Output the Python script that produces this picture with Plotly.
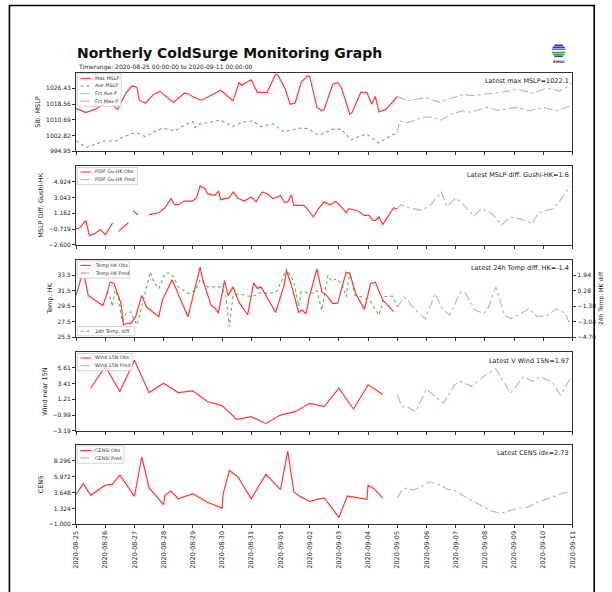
import pandas as pd
import plotly.graph_objects as go

START = pd.Timestamp("2020-08-25 00:00:00")
END = pd.Timestamp("2020-09-11 00:00:00")

# ---------------- data (hours after START, values) ----------------
max_mslp_h = [0, 8, 16, 23, 28, 34, 41, 46, 50, 52, 57, 64, 69, 75, 80, 89, 93, 97, 103, 111, 119, 129, 134, 136,
              144, 149, 157, 164, 166, 172, 176, 180, 185, 190, 192, 198, 202, 204, 211, 215, 218, 225, 227, 234,
              239, 243, 246, 249, 255, 264]
max_mslp_v = [1016.4, 1014.3, 1016.0, 1018.8, 1019.5, 1015.8, 1024.0, 1027.7, 1027.0, 1020.5, 1019.0, 1023.5,
              1024.9, 1022.0, 1019.4, 1024.0, 1023.5, 1021.9, 1020.5, 1023.0, 1025.5, 1020.2, 1029.4, 1028.0,
              1030.7, 1024.4, 1024.4, 1033.5, 1033.0, 1026.0, 1018.5, 1019.0, 1029.4, 1032.7, 1032.5, 1016.9,
              1015.2, 1016.0, 1028.5, 1029.4, 1027.0, 1013.5, 1014.5, 1024.4, 1024.4, 1018.5, 1022.4, 1014.6,
              1016.0, 1022.4]
ave_mslp_h = [0, 8, 16, 23, 33, 38, 46, 50, 57, 65, 71, 76, 81, 89, 96, 98, 100, 108, 119, 129, 137, 145, 152,
              160, 162, 171, 176, 184, 190, 200, 211, 218, 226, 233, 239, 249, 255, 264]
ave_mslp_v = [1000.1, 996.8, 998.5, 1000.1, 1000.1, 1002.0, 1003.8, 1004.0, 1002.3, 1005.0, 1006.5, 1006.0,
              1005.1, 1008.0, 1009.8, 1006.8, 1008.3, 1009.3, 1010.5, 1007.3, 1009.5, 1010.1, 1007.3, 1008.5,
              1008.5, 1004.6, 1005.5, 1006.5, 1006.3, 1003.0, 1006.0, 1006.0, 1000.6, 1002.5, 1003.5, 999.0,
              1001.5, 1004.3]
fct_ave_h = [264, 266, 273, 284, 292, 300, 308, 318, 324, 338, 346, 354, 362, 373, 384, 395, 407]
fct_ave_v = [1004.3, 1010.1, 1009.3, 1011.8, 1012.2, 1010.5, 1013.5, 1015.2, 1014.5, 1016.9, 1015.5, 1016.0,
             1016.9, 1015.2, 1016.9, 1015.2, 1017.7]
fct_max_h = [264, 273, 280, 287, 291, 299, 303, 314, 319, 324, 335, 346, 352, 362, 368, 376, 384, 389, 397,
             403, 407]
fct_max_v = [1022.4, 1020.2, 1021.0, 1021.9, 1021.0, 1019.4, 1020.5, 1022.7, 1023.5, 1022.7, 1023.5, 1024.4,
             1024.7, 1026.0, 1025.2, 1024.0, 1026.0, 1026.3, 1025.2, 1026.8, 1029.0]

pdif_obs_h = [0, 3, 8, 11, 15, 20, 24, 30, 32, 35, 43, 45, 47, 51, 55, 60, 68, 73, 78, 81, 84, 89, 96, 99, 102,
              106, 108, 114, 117, 119, 126, 129, 133, 138, 144, 148, 153, 157, 162, 168, 171, 174, 177, 179, 187,
              190, 195, 199, 204, 209, 213, 217, 222, 224, 231, 237, 241, 244, 246, 249, 252, 257, 261, 264]
pdif_obs_v = [-0.68, -0.6, 0.31, -1.49, -1.3, -0.77, -1.4, 0.0, None, -1.0, 0.04, None, 1.44, 1.0, None, 1.0,
              1.23, 1.8, 2.91, 2.19, 2.19, 2.63, 2.63, 3.0, 4.43, 4.1, 3.51, 3.3, 3.83, 2.79, 3.03, 3.71, 3.0,
              2.63, 3.11, 2.51, 3.71, 3.5, 2.91, 3.3, 2.51, 2.51, 3.39, 2.11, 2.11, 1.7, 0.72, 1.71, 2.51, 2.19,
              2.59, 2.1, 1.23, 1.71, 1.5, 0.91, 0.91, 0.31, 0.31, 0.72, -0.17, 0.91, 1.8, 1.71]
pdif_pred_h = [264, 267, 274, 284, 291, 294, 300, 305, 312, 319, 327, 333, 341, 350, 357, 365, 375, 380, 392,
               398, 406]
pdif_pred_v = [1.71, 2.19, 1.8, 1.51, 2.11, 2.6, 3.71, 1.99, 3.0, 2.11, 0.84, 1.71, 1.2, -0.2, 0.72, 0.5, -0.08,
               1.23, 1.71, 2.71, 4.43]

temp_obs_h = [0, 6, 10, 22, 25, 28, 31, 34, 37, 39, 42, 45, 49, 54, 58, 68, 71, 79, 84, 92, 102, 104, 111, 114,
              117, 122, 125, 129, 134, 141, 146, 149, 152, 157, 164, 171, 173, 177, 183, 186, 189, 192, 198, 202,
              206, 211, 215, 222, 225, 230, 237, 242, 246, 252, 261]
temp_obs_v = [30.9, 34.1, 30.9, 29.6, 30.9, 32.6, 32.5, 31.1, 29.85, 27.1, 27.3, 27.3, 28.15, 30.9, 29.4, 28.15,
              30.3, 32.9, 31.1, 28.15, 34.55, 33.0, 29.6, 29.3, 28.6, 32.8, 30.9, 32.0, 30.0, 28.4, 32.5, 31.8,
              32.0, 30.6, 28.7, 32.2, 34.1, 32.2, 28.7, 29.0, 28.5, 30.9, 34.3, 31.35, 30.9, 29.85, 29.9, 33.9,
              33.7, 31.1, 29.1, 32.4, 32.6, 30.3, 28.8]
temp_pred_h = [264, 270, 279, 287, 295, 301, 307, 316, 320, 328, 335, 338, 345, 352, 357, 364, 372, 379, 388,
               395, 402, 405, 407]
temp_pred_v = [29.4, 30.7, 29.0, 27.85, 31.1, 29.2, 28.35, 31.35, 31.2, 29.0, 28.55, 29.0, 32.0, 28.35, 27.9,
               28.4, 29.2, 28.15, 28.35, 29.2, 28.6, 27.5, 27.7]
tdiff_h = [25, 27, 30, 32, 35, 38, 41, 45, 50, 53, 61, 64, 68, 73, 76, 80, 84, 92, 98, 102, 108, 119, 123, 126,
           129, 134, 144, 152, 158, 165, 173, 179, 183, 185, 195, 198, 202, 207, 210, 214, 219, 222, 225, 229,
           235, 242, 249, 253, 260, 264]
tdiff_v = [0.16, 0.0, -1.43, 0.33, -0.5, -3.03, -2.2, -1.97, -3.39, -2.0, 2.29, 1.2, 0.51, 2.11, 2.2, 1.8, 0.69,
           -0.02, 0.3, 1.47, 0.69, 0.69, -0.2, -3.56, -0.3, -0.02, -0.37, 0.1, -0.02, 0.16, 2.64, 1.2, -1.37,
           0.16, 0.0, 0.3, -1.8, 1.93, 1.3, 1.58, 0.9, -0.37, 2.29, -0.2, -0.37, -0.9, -2.33, -0.37, -0.3, -1.43]

wind_obs_h = [12, 24, 36, 48, 60, 72, 84, 96, 108, 120, 132, 144, 156, 168, 180, 192, 204, 216, 228, 240, 252]
wind_obs_v = [2.77, 5.83, 2.31, 6.68, 2.17, 3.48, 2.17, 2.4, 0.9, 0.33, -1.6, -1.22, -2.16, -0.99, -0.51, 0.66,
              0.19, 2.77, -0.14, 3.24, 1.93]
wind_pred_h = [264, 268, 273, 279, 288, 295, 302, 311, 316, 325, 335, 345, 357, 368, 375, 381, 391, 398, 407]
wind_pred_v = [1.83, 0.19, 0.1, -0.51, 2.63, 1.6, 0.66, 3.24, 3.72, 3.01, 4.42, 5.5, 2.07, 4.42, 3.72, 4.33,
               3.72, 1.83, 4.33]

cens_obs_h = [0, 6, 12, 24, 30, 36, 48, 54, 60, 72, 73, 78, 84, 96, 108, 120, 121, 126, 133, 144, 156, 168, 174,
              179, 184, 192, 198, 204, 216, 223, 239, 240, 245, 252]
cens_obs_v = [3.38, 4.96, 3.23, 4.72, 4.87, 6.21, 3.08, 8.83, 4.36, 1.83, 3.23, 3.87, 2.73, 3.47, 2.23, 1.38,
              3.47, 6.85, 5.96, 2.73, 6.3, 4.07, 9.68, 3.72, 3.08, 2.34, 2.64, 2.87, 0.0, 3.13, 2.64, 4.72, 4.2,
              2.83]
cens_pred_h = [264, 268, 272, 277, 284, 290, 300, 306, 310, 319, 333, 341, 349, 357, 364, 371, 379, 392, 400, 406]
cens_pred_v = [2.83, 4.07, 4.3, 3.98, 4.5, 5.21, 4.72, 4.07, 4.07, 3.08, 1.74, 1.0, 0.59, 1.0, 1.38, 1.49, 2.23,
               2.98, 3.57, 3.72]

# axis ranges and tick labels
p1_ticks = [994.95, 1002.82, 1010.69, 1018.56, 1026.43]
p1_range = [994.95, 1034.30]
p2_ticks = [-2.600, -0.719, 1.162, 3.043, 4.924]
p2_range = [-2.600, 6.805]
p3_ticks = [25.5, 27.5, 29.5, 31.5, 33.5]
p3_range = [25.5, 35.5]
p3r_ticks = [-4.70, -3.04, -1.38, 0.28, 1.94]
p3r_range = [-4.70, 3.60]
p4_ticks = [-3.19, -0.99, 1.21, 3.41, 5.61]
p4_range = [-3.19, 7.81]
p5_ticks = [-1.000, 1.324, 3.648, 5.972, 8.296]
p5_range = [-1.000, 10.620]

latest_texts = ["Latest max MSLP=1022.1", "Latest MSLP diff. Gushi-HK=1.6", "Latest 24h Temp diff. HK=-1.4",
                "Latest V Wind 15N=1.97", "Latest CENS idx=2.73"]
ytitles = ["Slb. MSLP", "MSLP Diff. Gushi-HK", "Temp. HK", "Wind near 15N", "CENS"]

# ---------------- styling ----------------
W, H = 612, 592
FONT = "DejaVu Sans"
RED = "rgba(255,20,20,0.85)"
GREEN = "rgba(40,150,40,0.75)"
BLUE = "rgba(110,110,220,0.55)"
PINK = "rgba(200,90,90,0.55)"


def px(x):
    return x / W


def py(y):
    return 1 - y / H


def t(hours):
    return [START + pd.Timedelta(hours=h) for h in hours]


panels_px = [(73, 152), (167, 246), (261, 339), (354, 433), (447, 527)]
xdom = [px(73), px(576)]

fig = go.Figure()


def add(h, v, n, color, dash, width=1.1, yaxis=None):
    fig.add_trace(go.Scatter(
        x=t(h), y=v, mode="lines", showlegend=False,
        line=dict(color=color, dash=dash, width=width),
        xaxis="x" if n == 1 else f"x{n}",
        yaxis=yaxis if yaxis else ("y" if n == 1 else f"y{n}"),
        connectgaps=False,
    ))


add(max_mslp_h, max_mslp_v, 1, RED, "solid", 1.2)
add(ave_mslp_h, ave_mslp_v, 1, GREEN, "dot", 1.1)
add(fct_ave_h, fct_ave_v, 1, BLUE, "dashdot", 1.1)
add(fct_max_h, fct_max_v, 1, PINK, "dashdot", 1.1)
add(pdif_obs_h, pdif_obs_v, 2, RED, "solid", 1.2)
add(pdif_pred_h, pdif_pred_v, 2, BLUE, "dashdot", 1.1)
add(tdiff_h, tdiff_v, 3, GREEN, "dot", 1.1, yaxis="y6")
add(temp_obs_h, temp_obs_v, 3, RED, "solid", 1.2)
add(temp_pred_h, temp_pred_v, 3, BLUE, "dashdot", 1.1)
add(wind_obs_h, wind_obs_v, 4, RED, "solid", 1.2)
add(wind_pred_h, wind_pred_v, 4, BLUE, "dashdot", 1.1)
add(cens_obs_h, cens_obs_v, 5, RED, "solid", 1.2)
add(cens_pred_h, cens_pred_v, 5, BLUE, "dashdot", 1.1)

axis_common = dict(showline=True, mirror=True, linecolor="#333", linewidth=0.9, ticks="outside", ticklen=3,
                   tickwidth=0.8, tickcolor="#333", showgrid=False, zeroline=False,
                   tickfont=dict(family=FONT, size=6, color="#222"))


def fmt(v, nd):
    s = f"{v:.{nd}f}"
    return s.replace("-", "\u2212")


tick_sets = [(p1_ticks, p1_range, 2), (p2_ticks, p2_range, 3), (p3_ticks, p3_range, 1),
             (p4_ticks, p4_range, 2), (p5_ticks, p5_range, 3)]

layout = dict(width=W, height=H, margin=dict(l=0, r=0, t=0, b=0), plot_bgcolor="white",
              paper_bgcolor="white", font=dict(family=FONT, color="#222"))
for i, ((top, bot), (ticks, rng, nd)) in enumerate(zip(panels_px, tick_sets), start=1):
    xa = "xaxis" if i == 1 else f"xaxis{i}"
    ya = "yaxis" if i == 1 else f"yaxis{i}"
    layout[xa] = dict(axis_common, domain=xdom, anchor="y" if i == 1 else f"y{i}",
                      range=[START, END], type="date", dtick=86400000, tick0=START,
                      tickformat="%Y-%m-%d", tickangle=-90, showticklabels=(i == 5),
                      tickfont=dict(family=FONT, size=6.5, color="#222"))
    if i > 1:
        layout[xa]["matches"] = "x"
    layout[ya] = dict(axis_common, domain=[py(bot), py(top)], anchor="x" if i == 1 else f"x{i}",
                      range=rng, tickvals=ticks, ticktext=[fmt(v, nd) for v in ticks],
                      title=dict(text=ytitles[i - 1], font=dict(family=FONT, size=6.5), standoff=4))
layout["yaxis6"] = dict(axis_common, overlaying="y3", side="right", anchor="x3", range=p3r_range,
                        tickvals=p3r_ticks, ticktext=[fmt(v, 2) for v in p3r_ticks],
                        title=dict(text="24h Temp. HK diff", font=dict(family=FONT, size=6), standoff=3))
fig.update_layout(**layout)

shapes = []
annotations = []

# outer frame
shapes.append(dict(type="rect", xref="paper", yref="paper", x0=px(5.5), x1=px(598), y0=py(600), y1=py(5.5),
                   line=dict(color="black", width=1.6), fillcolor="rgba(0,0,0,0)", layer="above"))

# title
annotations.append(dict(text="<b>Northerly ColdSurge Monitoring Graph</b>", xref="paper", yref="paper",
                        x=px(72), y=py(53), xanchor="left", yanchor="middle", showarrow=False,
                        font=dict(family=FONT, size=14, color="#111")))
annotations.append(dict(text="Timerange: 2020-08-25 00:00:00 to 2020-09-11 00:00:00", xref="paper",
                        yref="paper", x=px(73), y=py(67), xanchor="left", yanchor="middle", showarrow=False,
                        font=dict(family=FONT, size=6, color="#222")))

# logo (BMKG)
cx, cy, r = 562, 51, 7
shapes.append(dict(type="circle", xref="paper", yref="paper", x0=px(cx - r), x1=px(cx + r), y0=py(cy + r),
                   y1=py(cy - r), line=dict(color="rgba(0,0,0,0)", width=0), fillcolor="white"))
for dy, col in [(-5.5, "#2b3fc9"), (-3.5, "#2b3fc9"), (-1.5, "#5a6ad8"), (1.8, "#3aa83a"), (3.8, "#3aa83a"),
                (5.6, "#1f4aa8")]:
    half = (r * r - dy * dy) ** 0.5
    shapes.append(dict(type="line", xref="paper", yref="paper", x0=px(cx - half), x1=px(cx + half),
                       y0=py(cy + dy), y1=py(cy + dy), line=dict(color=col, width=1.6)))
annotations.append(dict(text="<b>BMKG</b>", xref="paper", yref="paper", x=px(cx), y=py(cy + 11),
                        xanchor="center", yanchor="middle", showarrow=False,
                        font=dict(family=FONT, size=3.5, color="#333")))

# latest-value annotations
for i, txt in enumerate(latest_texts, start=1):
    top, bot = panels_px[i - 1]
    hpx = bot - top
    annotations.append(dict(text=txt, xref=("x" if i == 1 else f"x{i}") + " domain",
                            yref=("y" if i == 1 else f"y{i}") + " domain", x=0.998, y=1 - 8.5 / hpx,
                            xanchor="right", yanchor="middle", showarrow=False,
                            font=dict(family=FONT, size=6.5, color="#222")))


# custom compact legends (matplotlib-like)
def legend(n, entries, at_top=True):
    top, bot = panels_px[n - 1]
    hpx = bot - top
    xr = ("x" if n == 1 else f"x{n}") + " domain"
    yr = ("y" if n == 1 else f"y{n}") + " domain"
    row = 7.6 / hpx
    maxlen = max(len(e[0]) for e in entries)
    x_text = 17.0 / 503
    x_right = (17.0 + maxlen * 2.75 + 4) / 503
    nrow = len(entries)
    if at_top:
        ytop = 1 - 1.2 / hpx
        ybot = ytop - (nrow * 7.6 + 2.2) / hpx
    else:
        ybot = 1.5 / hpx
        ytop = ybot + (nrow * 7.6 + 1.6) / hpx
    shapes.append(dict(type="rect", xref=xr, yref=yr, x0=1.2 / 503, x1=x_right, y0=ybot, y1=ytop,
                       line=dict(color="#c8c8c8", width=0.8), fillcolor="rgba(255,255,255,0.85)"))
    for k, (name, color, dash) in enumerate(entries):
        yc = ytop - (4.6 / hpx) - k * row
        shapes.append(dict(type="line", xref=xr, yref=yr, x0=4.5 / 503, x1=15.0 / 503, y0=yc, y1=yc,
                           line=dict(color=color, dash=dash, width=1.1)))
        annotations.append(dict(text=name, xref=xr, yref=yr, x=x_text, y=yc, xanchor="left",
                                yanchor="middle", showarrow=False,
                                font=dict(family=FONT, size=4.8, color="#333")))


legend(1, [("Max MSLP", RED, "solid"), ("Ave MSLP", GREEN, "dot"), ("Fct Ave P", BLUE, "dashdot"),
           ("Fct Max P", PINK, "dashdot")])
legend(2, [("PDIF Gu-HK Obs", RED, "solid"), ("PDIF Gu-HK Pred", BLUE, "dashdot")])
legend(3, [("Temp HK Obs", RED, "solid"), ("Temp HK Pred", BLUE, "dashdot")])
legend(3, [("24h Temp. diff", GREEN, "dot")], at_top=False)
legend(4, [("Wind 15N Obs", RED, "solid"), ("Wind 15N Pred", BLUE, "dashdot")])
legend(5, [("CENSI Obs", RED, "solid"), ("CENSI Pred", BLUE, "dashdot")])

fig.update_layout(shapes=shapes, annotations=annotations)
fig.write_html("out.html", config={"displayModeBar": False},
               post_script="document.body.style.margin='0px';")
